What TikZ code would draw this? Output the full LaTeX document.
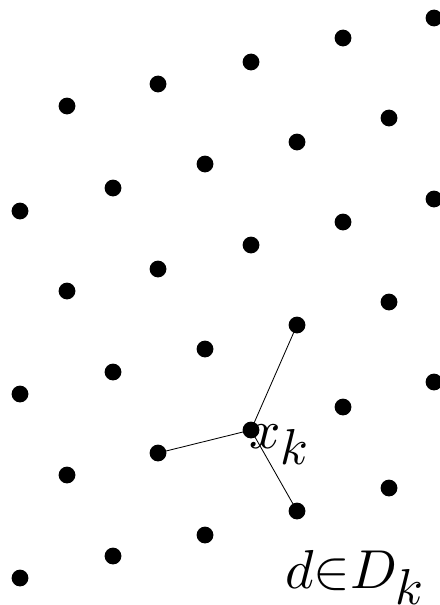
\documentclass[tikz,border=0pt]{standalone}
\usetikzlibrary{positioning}
\tikzset{
  pt/.style   = {circle, fill=black, inner sep=0pt, minimum size=0.42cm},
  lab/.style  = {inner sep=0pt},
  link/.style = {line width=0.6pt},
}
\newcommand{\subk}{\scalebox{0.92}{$k$}}
\newcommand{\biglab}[1]{\scalebox{3.9}{#1}}

\begin{document}
\begin{tikzpicture}[x=0.025cm, y=-0.025cm]
\useasboundingbox (0,0) rectangle (440,605);

% lattice points, row by row (pixel grid of the page)
\foreach \px/\py/\nm in {434/18/p11, 343/38/p12, 251/62/p13, 158/84/p14, 67/106/p15,
                         389/118/p21, 297/142/p22, 205/164/p23, 113/188/p24, 20/211/p25,
                         434/199/p31, 343/222/p32, 251/245/p33, 158/269/p34, 67/291/p35,
                         389/302/p41, 297/325/p42, 205/349/p43, 113/372/p44, 20/394/p45,
                         434/382/p51, 343/407/p52, 251/430/xk,  158/453/p54, 67/475/p55,
                         389/488/p61, 297/511/p62, 205/535/p63, 113/556/p64, 20/578/p65}
  \node (\nm) [pt] at (\px,\py) {};

% directions out of x_k
\draw [link] (xk.center) -- (p54.center);
\draw [link] (xk.center) -- (p42.center);
\draw [link] (xk.center) -- (p62.center);

% labels
\node (xklab) [lab, anchor=base west] at (249,448) {\biglab{$x_{\subk}$}};
\node (dlab)  [lab, anchor=base west] at (285,588) {\biglab{$d{\in}D_{\subk}$}};

\end{tikzpicture}
\end{document}
